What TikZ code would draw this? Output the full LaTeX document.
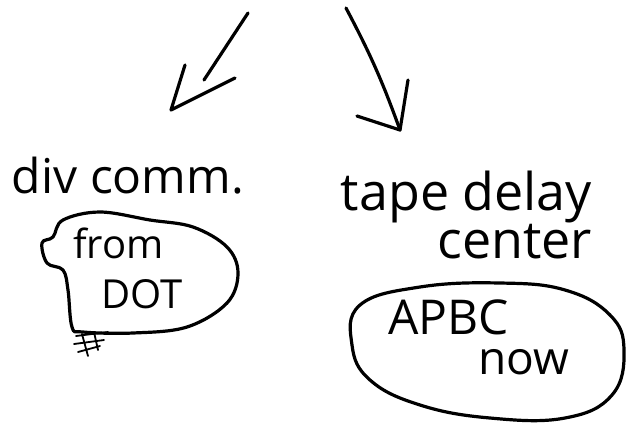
\documentclass[tikz,border=0pt]{standalone}
\usepackage{fontspec}
\setmainfont{Open Sans}
\usetikzlibrary{arrows.meta}
\begin{document}
\begin{tikzpicture}[x=1pt,y=-1pt,
  ink/.style={line width=3.2pt, line cap=round, line join=round, black},
  label/.style={inner sep=0pt, outer sep=0pt, text=black}]
\useasboundingbox[fill=white] (0,0) rectangle (626,424);

% texts
\node[label, anchor=base west, font=\fontsize{48}{52}\selectfont] (divcomm) at (12,193) {div comm.};
\node[label, anchor=base east, font=\fontsize{52}{56}\selectfont] (tape) at (592,210) {tape delay};
\node[label, anchor=base east, font=\fontsize{52}{56}\selectfont] (center) at (592,258) {center};
\node[label, anchor=base west, font=\fontsize{40}{44}\selectfont] (from) at (73,258) {from};
\node[label, anchor=base west, font=\fontsize{40}{44}\selectfont] (dot) at (101,308) {DOT};
\node[label, anchor=base west, font=\fontsize{48}{52}\selectfont] (apbc) at (388,334) {APBC};
\node[label, anchor=base west, font=\fontsize{46}{50}\selectfont] (now) at (478,374) {now};

% left blob
\draw[ink] plot[smooth cycle, tension=0.6] coordinates {
  (53,237) (63,220) (100,212) (150,220) (193,227) (227,247) (238,273)
  (227,303) (187,327) (133,333) (83,332) (72,327) (68,290) (63,270)
  (47,263) (42,243)};
\draw[line width=1.8pt, line cap=round] (76,336) -- (108,332)
  (74,344) -- (104,340) (78,352) -- (100,346) (82,334) -- (88,356)
  (94,332) -- (98,350);

% right ellipse
\draw[ink] plot[smooth cycle, tension=0.7] coordinates {
  (360,305) (420,287) (500,283) (565,290) (610,315) (624,350)
  (612,395) (565,418) (490,418) (420,405) (370,380) (352,345)};

% arrows
\coordinate (a1s) at (248,13);
\coordinate (a1e) at (204,80);
\coordinate (a1tip) at (171,110);
\coordinate (a1l) at (185,65);
\coordinate (a1r) at (235,78);
\draw[ink] (a1s) -- (a1e);
\draw[ink] (a1l) -- (a1tip) -- (a1r);

\coordinate (a2s) at (346,8);
\coordinate (a2tip) at (400,130);
\coordinate (a2l) at (357,116);
\coordinate (a2r) at (408,80);
\draw[ink] (a2s) to[bend left=4] (a2tip);
\draw[ink] (a2l) -- (a2tip) -- (a2r);
\end{tikzpicture}
\end{document}
